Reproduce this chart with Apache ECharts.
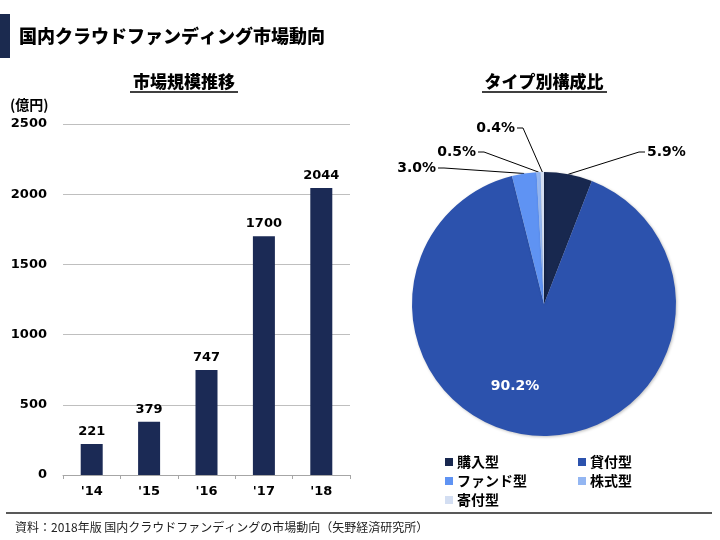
<!DOCTYPE html>
<html>
<head>
<meta charset="utf-8">
<script src="https://cdn.jsdelivr.net/npm/echarts@6/dist/echarts.min.js"></script>
<style>
html,body{margin:0;padding:0;background:#fff;}
#main{width:720px;height:540px;}
</style>
</head>
<body>
<div id="main"></div>
<script>
// ---- data ----
var years = ["'14", "'15", "'16", "'17", "'18"];
var marketSize = [221, 379, 747, 1700, 2044];
var yTicks = [0, 500, 1000, 1500, 2000, 2500];
var typeNames = ['購入型', '貸付型', 'ファンド型', '株式型', '寄付型'];
var typeShares = [5.9, 90.2, 3.0, 0.5, 0.4];
var typeColors = ['#18284f', '#2c52ad', '#5f93f3', '#93b6f2', '#d3def2'];

var titleText = '国内クラウドファンディング市場動向';
var leftTitle = '市場規模推移';
var rightTitle = 'タイプ別構成比';
var unitText = '(億円)';
var sourceText = '資料：2018年版 国内クラウドファンディングの市場動向（矢野経済研究所）';

// ---- layout (positions only, not data) ----
var JP = '"Noto Sans CJK JP", "Noto Sans", sans-serif';
var NUM = '"DejaVu Sans", Verdana, sans-serif';
// label placement for pie: [anchorX, centerY, side] side: 1 = label to right of anchor, -1 = to left
var pieLabelPos = [
  [647, 152, 1],
  [515, 386, 0],
  [436, 168, -1],
  [476, 152, -1],
  [515, 128, -1]
];

var chart = echarts.init(document.getElementById('main'), null, {renderer: 'canvas'});

var pieData = typeNames.map(function (n, i) {
  var item = {name: n, value: typeShares[i], itemStyle: {color: typeColors[i]}};
  if (i === 1) {
    item.label = {color: '#ffffff'};
    item.labelLine = {show: false};
  }
  return item;
});

var legendText = {color: '#000', fontFamily: JP, fontWeight: 'bold', fontSize: 14, padding: [0, 0, 0, -1]};

var option = {
  backgroundColor: '#ffffff',
  animation: false,
  grid: {left: 63, right: 370, top: 124, bottom: 65},
  xAxis: {
    type: 'category',
    data: years,
    axisLine: {lineStyle: {color: '#a6a6a6', width: 1}},
    axisTick: {show: true, length: 4, lineStyle: {color: '#a6a6a6'}},
    axisLabel: {color: '#000', fontFamily: NUM, fontWeight: 'bold', fontSize: 13, margin: 10}
  },
  yAxis: {
    type: 'value',
    min: yTicks[0],
    max: yTicks[yTicks.length - 1],
    interval: yTicks[1] - yTicks[0],
    axisLine: {show: false},
    axisTick: {show: false},
    splitLine: {lineStyle: {color: '#bfbfbf', width: 1}},
    axisLabel: {
      color: '#000', fontFamily: NUM, fontWeight: 'bold', fontSize: 13, margin: 16,
      formatter: function (v) { return String(v); }
    }
  },
  legend: [
    {
      orient: 'vertical',
      left: 440, top: 450,
      itemWidth: 8, itemHeight: 8, itemGap: 5,
      icon: 'rect',
      data: [typeNames[0], typeNames[2], typeNames[4]],
      textStyle: legendText
    },
    {
      orient: 'vertical',
      left: 573, top: 450,
      itemWidth: 8, itemHeight: 8, itemGap: 5,
      icon: 'rect',
      data: [typeNames[1], typeNames[3]],
      textStyle: legendText
    }
  ],
  series: [
    {
      type: 'bar',
      data: marketSize,
      barWidth: 22,
      itemStyle: {color: '#1b2a55'},
      label: {show: true, position: 'top', distance: 6, color: '#000', fontFamily: NUM, fontWeight: 'bold', fontSize: 13}
    },
    {
      type: 'pie',
      center: [544, 304],
      radius: 132,
      startAngle: 90,
      clockwise: true,
      data: pieData,
      itemStyle: {shadowBlur: 3, shadowColor: 'rgba(0,0,0,0.25)', shadowOffsetX: 1, shadowOffsetY: 1},
      emphasis: {disabled: true},
      label: {
        show: true,
        position: 'outside',
        formatter: function (p) { return p.value.toFixed(1) + '%'; },
        color: '#000', fontFamily: NUM, fontWeight: 'bold', fontSize: 14
      },
      labelLine: {show: true, length: 20, length2: 10, lineStyle: {color: '#000', width: 1}},
      labelLayout: function (p) {
        var pos = pieLabelPos[p.dataIndex];
        var side = pos[2];
        var res = {x: pos[0], y: pos[1], verticalAlign: 'middle'};
        if (side === 0) {
          res.align = 'center';
          return res;
        }
        res.align = side > 0 ? 'left' : 'right';
        var pts = p.labelLinePoints;
        if (pts && pts.length) {
          var start = pts[0];
          res.labelLinePoints = [
            [start[0], start[1]],
            [pos[0] - side * 8, pos[1]],
            [pos[0] - side * 2, pos[1]]
          ];
        }
        return res;
      }
    }
  ],
  graphic: [
    {type: 'rect', left: 0, top: 14, shape: {width: 10, height: 44}, style: {fill: '#1b2a4f'}},
    {type: 'text', x: 19, y: 36, style: {text: titleText, font: '900 18px ' + JP, fill: '#000', verticalAlign: 'middle'}},
    {type: 'text', x: 184, y: 82, style: {text: leftTitle, font: '900 17px ' + JP, fill: '#000', align: 'center', verticalAlign: 'middle'}},
    {type: 'line', shape: {x1: 130, y1: 92, x2: 238, y2: 92}, style: {stroke: '#000', lineWidth: 1.5}},
    {type: 'text', x: 544, y: 82, style: {text: rightTitle, font: '900 17px ' + JP, fill: '#000', align: 'center', verticalAlign: 'middle'}},
    {type: 'line', shape: {x1: 482, y1: 92, x2: 607, y2: 92}, style: {stroke: '#000', lineWidth: 1.5}},
    {type: 'text', x: 10, y: 105, style: {text: unitText, font: 'bold 14px ' + JP, fill: '#000', verticalAlign: 'middle'}},
    {type: 'line', shape: {x1: 6, y1: 513, x2: 712, y2: 513}, style: {stroke: '#595959', lineWidth: 2}},
    {type: 'text', x: 15, y: 527, style: {text: sourceText, font: '12px ' + JP, fill: '#222', verticalAlign: 'middle'}}
  ]
};
chart.setOption(option);
</script>
</body>
</html>
